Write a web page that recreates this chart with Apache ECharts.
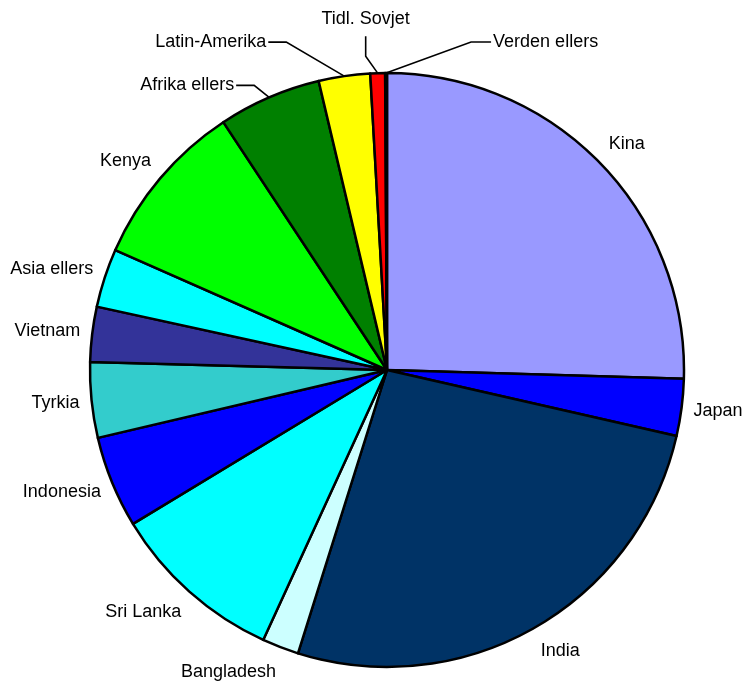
<!DOCTYPE html>
<html>
<head>
<meta charset="utf-8">
<script src="https://cdn.jsdelivr.net/npm/echarts@6/dist/echarts.min.js"></script>
<style>
  html, body { margin: 0; padding: 0; background: #ffffff; }
  #chart { width: 744px; height: 682px; }
</style>
</head>
<body>
<div id="chart"></div>
<script>
// Share of each region (per cent), clockwise from twelve o'clock
const regions = ['Kina', 'Japan', 'India', 'Bangladesh', 'Sri Lanka', 'Indonesia', 'Tyrkia',
  'Vietnam', 'Asia ellers', 'Kenya', 'Afrika ellers', 'Latin-Amerika', 'Tidl. Sovjet', 'Verden ellers'];
const shares = [25.5, 3.1, 26.3, 2.0, 9.5, 5.0, 4.1, 3.0, 3.2, 9.1, 5.6, 2.8, 0.8, 0.1];
const sliceColors = ['#9999FF', '#0000FF', '#003366', '#CCFFFF', '#00FFFF', '#0000FF', '#33CCCC',
  '#333399', '#00FFFF', '#00FF00', '#008000', '#FFFF00', '#FF0000', '#FF00FF'];

// Labels of the narrow slices at the top sit away from the rim on a bent leader line
const leaders = {
  'Afrika ellers': { dx: -35, dy: -12, side: 'left' },
  'Latin-Amerika': { dx: -78, dy: -34, side: 'left' },
  'Tidl. Sovjet':  { dx: -12, dy: -54, side: 'top' },
  'Verden ellers': { dx: 107, dy: -31, side: 'right' }
};
const RIM_GAP = 12;   // distance from the rim along the slice's middle ray
const LIFT = 15;      // extra vertical push away from the centre

const data = regions.map((name, i) => {
  const item = { name, value: shares[i], itemStyle: { color: sliceColors[i] } };
  if (leaders[name]) {
    item.labelLine = { lineStyle: { opacity: 1, color: '#000', width: 1.6 } };
  }
  return item;
});

const chart = echarts.init(document.getElementById('chart'), null, { renderer: 'canvas' });
chart.setOption({
  backgroundColor: '#ffffff',
  animation: false,
  series: [{
    type: 'pie',
    center: [387, 370],
    radius: 297,
    startAngle: 90,
    clockwise: true,
    avoidLabelOverlap: false,
    emphasis: { disabled: true },
    itemStyle: { borderColor: '#000000', borderWidth: 2.5 },
    label: {
      show: true,
      position: 'outside',
      color: '#000000',
      fontFamily: 'Liberation Sans, Arial, sans-serif',
      fontSize: 18
    },
    labelLine: {
      show: true,
      length: RIM_GAP,
      length2: 0,
      lineStyle: { opacity: 0 }
    },
    labelLayout: function (p) {
      const pts = p.labelLinePoints;
      if (!pts || pts.length < 2) return {};
      const x0 = pts[0][0], y0 = pts[0][1];
      const x1 = pts[1][0], y1 = pts[1][1];
      const w = p.labelRect.width;
      const lead = leaders[regions[p.dataIndex]];
      if (!lead) {
        // label sits beside the point just outside the rim, on the side away from the centre
        const len = Math.hypot(x1 - x0, y1 - y0) || 1;
        const uy = (y1 - y0) / len;
        const sx = x1 >= x0 ? 1 : -1;
        return { x: x1 + sx * w / 2, y: y1 + uy * LIFT, align: 'center', verticalAlign: 'middle' };
      }
      const lx = x0 + lead.dx, ly = y0 + lead.dy;
      if (lead.side === 'left') {
        return { x: lx, y: ly, align: 'right', verticalAlign: 'middle',
          labelLinePoints: [[x0, y0], [lx + 20, ly], [lx + 2, ly]] };
      }
      if (lead.side === 'right') {
        return { x: lx, y: ly, align: 'left', verticalAlign: 'middle',
          labelLinePoints: [[x0, y0], [lx - 22, ly], [lx - 2, ly]] };
      }
      return { x: lx, y: ly, align: 'center', verticalAlign: 'middle',
        labelLinePoints: [[x0, y0], [lx, y0 - 17], [lx, ly + 17]] };
    },
    data: data
  }]
});
</script>
</body>
</html>
